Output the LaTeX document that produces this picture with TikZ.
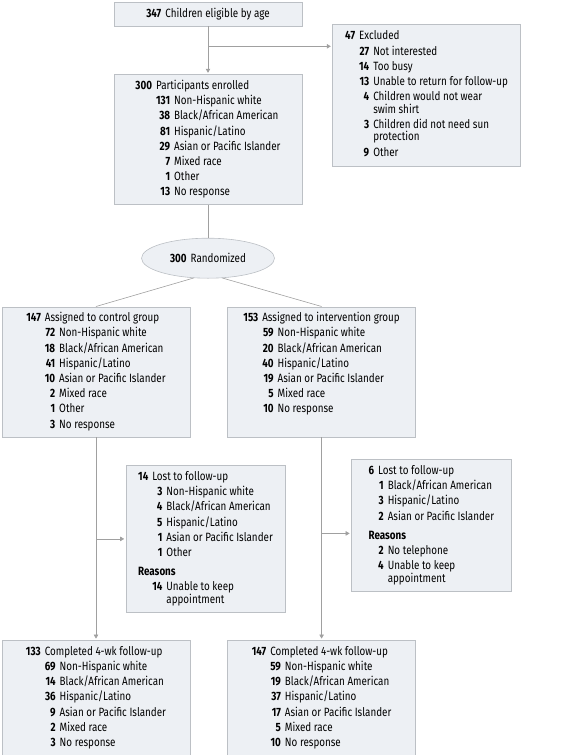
\documentclass[tikz,border=0pt]{standalone}
\usepackage{fontspec}
\setmainfont{Fira Sans}[FakeStretch=0.82]
\usetikzlibrary{arrows.meta,positioning,shapes.geometric}

\definecolor{boxfill}{RGB}{237,240,244}
\definecolor{boxline}{RGB}{188,192,197}
\definecolor{flowline}{RGB}{160,160,160}

\newcommand{\nb}[1]{\textbf{#1}}
\newenvironment{counts}{\begin{tabular}{@{}r@{}r@{}l@{}}}{\end{tabular}}

\begin{document}
\begin{tikzpicture}[->,>={Triangle[length=4pt,width=4.5pt]},shorten >=1.5pt,
  every node/.style={font=\fontsize{12}{15.2}\selectfont},
  box/.style={draw=boxline,fill=boxfill,line width=0.6pt,minimum width=188pt,inner sep=0pt},
  flow/.style={draw=flowline,line width=0.6pt},
  link/.style={flow,-,shorten >=0pt}]

\useasboundingbox (0,0) rectangle (570pt,-755pt);

\node[box,minimum height=24pt] (eligible) at (208pt,-14pt) {\nb{347}\hspace{4pt}Children eligible by age};

\node[box,minimum height=142pt] (excluded) [right=30pt of eligible.north east,anchor=north west,yshift=-22pt] {\begin{counts}
\nb{47}\hspace{4pt} & \multicolumn{2}{@{}l@{}}{Excluded}\\
 & \nb{27}\hspace{4pt} & Not interested\\
 & \nb{14}\hspace{4pt} & Too busy\\
 & \nb{13}\hspace{4pt} & Unable to return for follow-up\\
 & \nb{4}\hspace{4pt} & Children would not wear\\[-2.7pt]
 & & swim shirt\\
 & \nb{3}\hspace{4pt} & Children did not need sun\\[-2.7pt]
 & & protection\\
 & \nb{9}\hspace{4pt} & Other
\end{counts}};

\node[box,minimum height=130pt] (enrolled) [below=48pt of eligible] {\begin{counts}
\nb{300}\hspace{4pt} & \multicolumn{2}{@{}l@{}}{Participants enrolled}\\
 & \nb{131}\hspace{4pt} & Non-Hispanic white\\
 & \nb{38}\hspace{4pt} & Black/African American\\
 & \nb{81}\hspace{4pt} & Hispanic/Latino\\
 & \nb{29}\hspace{4pt} & Asian or Pacific Islander\\
 & \nb{7}\hspace{4pt} & Mixed race\\
 & \nb{1}\hspace{4pt} & Other\\
 & \nb{13}\hspace{4pt} & No response
\end{counts}};

\node[ellipse,draw=boxline,fill=boxfill,line width=0.6pt,minimum width=133pt,minimum height=40pt,inner sep=0pt] (rand) [below=33pt of enrolled] {\nb{300}\hspace{4pt}Randomized};

\node[box,minimum height=130pt] (control) [below=28pt of rand,xshift=-112pt] {\begin{counts}
\nb{147}\hspace{4pt} & \multicolumn{2}{@{}l@{}}{Assigned to control group}\\
 & \nb{72}\hspace{4pt} & Non-Hispanic white\\
 & \nb{18}\hspace{4pt} & Black/African American\\
 & \nb{41}\hspace{4pt} & Hispanic/Latino\\
 & \nb{10}\hspace{4pt} & Asian or Pacific Islander\\
 & \nb{2}\hspace{4pt} & Mixed race\\
 & \nb{1}\hspace{4pt} & Other\\
 & \nb{3}\hspace{4pt} & No response
\end{counts}};

\node[box,minimum height=130pt] (interv) [right=37pt of control] {\begin{counts}
\nb{153}\hspace{4pt} & \multicolumn{2}{@{}l@{}}{Assigned to intervention group}\\
 & \nb{59}\hspace{4pt} & Non-Hispanic white\\
 & \nb{20}\hspace{4pt} & Black/African American\\
 & \nb{40}\hspace{4pt} & Hispanic/Latino\\
 & \nb{19}\hspace{4pt} & Asian or Pacific Islander\\
 & \nb{5}\hspace{4pt} & Mixed race\\
 & \nb{10}\hspace{4pt} & No response\\[15.2pt]
\end{counts}};

% losses to follow-up
\node[box,minimum width=159pt,minimum height=147pt] (lostctrl) [below=28pt of control.south west,anchor=north west,xshift=124pt] {\begin{counts}
\nb{14}\hspace{4pt} & \multicolumn{2}{@{}l@{}}{Lost to follow-up}\\
 & \nb{3}\hspace{4pt} & Non-Hispanic white\\
 & \nb{4}\hspace{4pt} & Black/African American\\
 & \nb{5}\hspace{4pt} & Hispanic/Latino\\
 & \nb{1}\hspace{4pt} & Asian or Pacific Islander\\
 & \nb{1}\hspace{4pt} & Other\\[4pt]
\multicolumn{3}{@{}l@{}}{\nb{Reasons}}\\
 & \nb{14}\hspace{4pt} & Unable to keep\\[-2.7pt]
 & & appointment
\end{counts}};

\node[box,minimum width=160pt,minimum height=132pt] (lostint) [below=22pt of interv.south,anchor=north west,xshift=29.5pt] {\begin{counts}
\nb{6}\hspace{4pt} & \multicolumn{2}{@{}l@{}}{Lost to follow-up}\\
 & \nb{1}\hspace{4pt} & Black/African American\\
 & \nb{3}\hspace{4pt} & Hispanic/Latino\\
 & \nb{2}\hspace{4pt} & Asian or Pacific Islander\\[4pt]
\multicolumn{3}{@{}l@{}}{\nb{Reasons}}\\
 & \nb{2}\hspace{4pt} & No telephone\\
 & \nb{4}\hspace{4pt} & Unable to keep\\[-2.7pt]
 & & appointment
\end{counts}};

% completed
\node[box,minimum height=115pt] (donectrl) [below=203pt of control] {\begin{counts}
\nb{133}\hspace{4pt} & \multicolumn{2}{@{}l@{}}{Completed 4-wk follow-up}\\
 & \nb{69}\hspace{4pt} & Non-Hispanic white\\
 & \nb{14}\hspace{4pt} & Black/African American\\
 & \nb{36}\hspace{4pt} & Hispanic/Latino\\
 & \nb{9}\hspace{4pt} & Asian or Pacific Islander\\
 & \nb{2}\hspace{4pt} & Mixed race\\
 & \nb{3}\hspace{4pt} & No response
\end{counts}};

\node[box,minimum height=115pt] (doneint) [right=37pt of donectrl] {\begin{counts}
\nb{147}\hspace{4pt} & \multicolumn{2}{@{}l@{}}{Completed 4-wk follow-up}\\
 & \nb{59}\hspace{4pt} & Non-Hispanic white\\
 & \nb{19}\hspace{4pt} & Black/African American\\
 & \nb{37}\hspace{4pt} & Hispanic/Latino\\
 & \nb{17}\hspace{4pt} & Asian or Pacific Islander\\
 & \nb{5}\hspace{4pt} & Mixed race\\
 & \nb{10}\hspace{4pt} & No response
\end{counts}};

\coordinate (split) at ([yshift=-20pt]eligible.south);
\coordinate (lostintin) at ([yshift=-8pt]lostint.west);

\draw[flow] (eligible) -- (enrolled);
\draw[flow] (split) -- (split -| excluded.west);
\draw[link] (enrolled) -- (rand);
\draw[link] (rand.234) -- (control.north);
\draw[link] (rand.306) -- (interv.north);
\draw[flow] (control) -- (donectrl);
\draw[flow] (control.south |- lostctrl.west) -- (lostctrl.west);
\draw[flow] (interv) -- (doneint);
\draw[flow] (interv.south |- lostintin) -- (lostintin);

\end{tikzpicture}
\end{document}
